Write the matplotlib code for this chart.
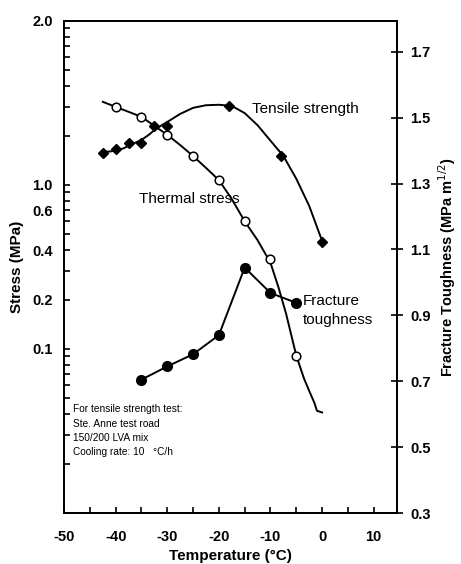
import matplotlib
matplotlib.use("Agg")
import matplotlib.pyplot as plt
from matplotlib.ticker import FixedLocator, LogLocator, NullFormatter, MultipleLocator

plt.rcParams['font.family'] = ['Liberation Sans', 'DejaVu Sans']
plt.rcParams['axes.unicode_minus'] = False

# thermal stress, open circles (MPa)
ts_temp = [-40, -35, -30, -25, -20, -15, -10, -5]
ts_stress = [2.99, 2.60, 2.02, 1.50, 1.07, 0.60, 0.354, 0.091]
# smooth curve drawn through the thermal stress points
ts_fit_temp = [-42.5, -40, -37.5, -35, -32.5, -30, -27.5, -25, -22.5, -20,
               -17.5, -15, -12.5, -10, -8.5, -7, -5, -3.5, -2.5, -1.5, -1, 0]
ts_fit_stress = [3.21, 2.99, 2.79, 2.60, 2.29, 2.02, 1.75, 1.50, 1.27, 1.07,
                 0.82, 0.60, 0.46, 0.335, 0.24, 0.165, 0.091, 0.066, 0.0555,
                 0.047, 0.042, 0.041]

# tensile strength, filled diamonds (MPa)
tens_temp = [-42.5, -40, -37.5, -35, -32.5, -30, -18, -8, 0]
tens_stress = [1.57, 1.66, 1.80, 1.80, 2.29, 2.29, 3.03, 1.50, 0.45]
tens_fit_temp = [-42.5, -41, -40, -38.5, -37.5, -36, -35, -33.5, -32.5, -31,
                 -30, -27.5, -25, -22.5, -20, -17.5, -15, -12.5, -10, -7.5,
                 -5, -2.5, 0]
tens_fit_stress = [1.59, 1.60, 1.62, 1.67, 1.73, 1.82, 1.88, 2.03, 2.16, 2.32,
                   2.42, 2.71, 2.95, 3.06, 3.08, 3.03, 2.74, 2.31, 1.86, 1.50,
                   1.09, 0.745, 0.456]

# fracture toughness, filled circles (MPa m^1/2)
ft_temp = [-35, -30, -25, -20, -15, -10, -5]
ft_value = [0.705, 0.745, 0.782, 0.84, 1.045, 0.968, 0.938]

stress_ticks = [0.1, 0.2, 0.4, 0.7, 1.0, 10.0]
stress_labels = ['0.1', '0.2', '0.4', '0.6', '1.0', '2.0']

fig = plt.figure(figsize=(4.61, 5.64), dpi=100)
ax = fig.add_axes([0.139, 0.0904, 0.722, 0.8726])
ax2 = ax.twinx()

lw = 1.4
ax.plot(ts_fit_temp, ts_fit_stress, color='black', lw=lw, zorder=2)
ax.plot(ts_temp, ts_stress, 'o', mfc='white', mec='black', mew=1.1, ms=6.2, zorder=3)
ax.plot(tens_fit_temp, tens_fit_stress, color='black', lw=lw, zorder=2)
ax.plot(tens_temp, tens_stress, 'D', color='black', ms=5.2, zorder=3)

ax2.plot(ft_temp, ft_value, 'o-', color='black', lw=lw, ms=7)

ax.set_xlim(-50, 14.5)
ax.set_yscale('log')
ax.set_ylim(0.01, 10)
ax2.set_ylim(0.3, 1.794)

ax.yaxis.set_major_locator(FixedLocator(stress_ticks))
ax.set_yticklabels(stress_labels)
ax.yaxis.set_minor_locator(LogLocator(base=10, subs=range(2, 10), numticks=20))
ax.yaxis.set_minor_formatter(NullFormatter())
ax.xaxis.set_major_locator(MultipleLocator(10))
ax.xaxis.set_minor_locator(MultipleLocator(5))
ax2.set_yticks([0.3, 0.5, 0.7, 0.9, 1.1, 1.3, 1.5, 1.7])
ax2.set_yticklabels(['0.3', '0.5', '0.7', '0.9', '1.1', '1.3', '1.5', '1.7'])

ax.tick_params(axis='both', which='both', direction='in', length=4, width=1.2,
               labelsize=10.5)
ax.tick_params(axis='x', which='both', top=False, pad=12)
ax.tick_params(axis='y', which='both', right=False, pad=8)
ax2.tick_params(axis='y', direction='inout', length=9, width=1.2, labelsize=10.5, pad=5)
for lab in ax.get_xticklabels() + ax.get_yticklabels() + ax2.get_yticklabels():
    lab.set_fontweight('bold')
for a in (ax, ax2):
    for s in a.spines.values():
        s.set_linewidth(1.3)

ax.set_xlabel('Temperature (°C)', fontsize=11, fontweight='bold', labelpad=4)
ax.set_ylabel('Stress (MPa)', fontsize=11, fontweight='bold', labelpad=6)
ax2.set_ylabel('Fracture Toughness (MPa m$^{1/2}$)', fontsize=10.5,
               fontweight='bold', labelpad=4)

ax.text(-13.5, 2.9, 'Tensile strength', fontsize=11, ha='left', va='center')
ax.text(-35.5, 0.82, 'Thermal stress', fontsize=11, ha='left', va='center')
ax2.text(-3.8, 0.945, 'Fracture', fontsize=11, ha='left', va='center')
ax2.text(-3.8, 0.887, 'toughness', fontsize=11, ha='left', va='center')

note = ['For tensile strength test:', 'Ste. Anne test road', '150/200 LVA mix',
        'Cooling rate: 10   °C/h']
for i, line in enumerate(note):
    ax2.text(-48.2, 0.615 - i * 0.0435, line, fontsize=7.3, ha='left', va='center')

fig.savefig('out.png', dpi=100)
